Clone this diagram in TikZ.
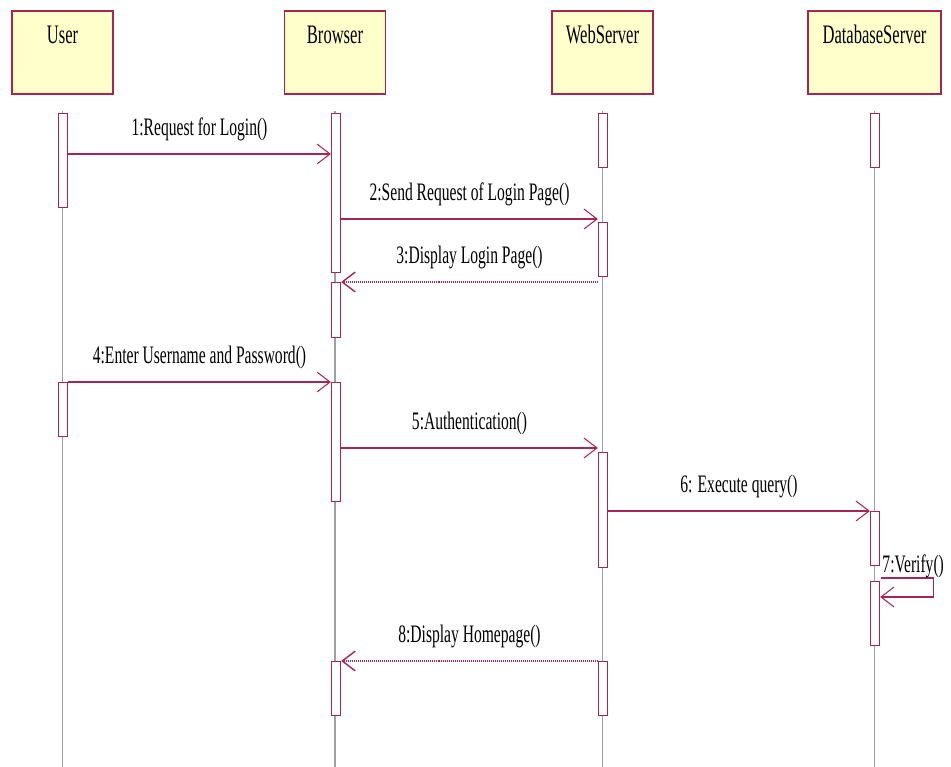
\documentclass[tikz,border=0pt]{standalone}
\usepackage{fontspec}
\usepackage{tikz}
\usetikzlibrary{arrows.meta,positioning}
\newfontfamily\umlfont[FakeStretch=0.62]{Liberation Serif}
\definecolor{umlred}{HTML}{A8254F}
\definecolor{umlfill}{HTML}{FFFFCC}
\definecolor{lifegray}{HTML}{A0A0A0}

\begin{document}
\begin{tikzpicture}[x=0.02cm,y=-0.02cm,
    obj/.style={rectangle, draw=umlred, fill=umlfill, line width=0.7pt,
                minimum width=2.02cm, minimum height=1.66cm, inner sep=0},
    objname/.style={anchor=base, inner sep=0, font=\umlfont\fontsize{15.2}{17}\selectfont},
    life/.style={draw=lifegray, line width=0.6pt},
    bar/.style={rectangle, draw=umlred, fill=white, line width=0.7pt,
                minimum width=0.18cm, inner sep=0, anchor=north},
    msg/.style={draw=umlred, line width=0.6pt,
                -{Straight Barb[length=7.4pt,width=11.3pt]}},
    reply/.style={msg, line width=0.8pt, dash pattern=on 0.567pt off 0.567pt},
    msglabel/.style={inner sep=0, text depth=0pt, above=10pt,
                     font=\umlfont\fontsize{14.3}{16}\selectfont}]

  \useasboundingbox (0,0) rectangle (951,767);
  \coordinate (bottom) at (0,767);

  %Objects%
  \node[obj] (user) at (62.5,52.5) {};
  \node[obj] (browser) at (335,52.5) {};
  \node[obj] (web) at (602.5,52.5) {};
  \node[obj, minimum width=2.66cm] (db) at (874.5,52.5) {};
  \node[objname] at ([yshift=-18.7pt]user.north) {User};
  \node[objname] at ([yshift=-18.7pt]browser.north) {Browser};
  \node[objname] at ([yshift=-18.7pt]web.north) {WebServer};
  \node[objname] at ([yshift=-18.7pt]db.north) {DatabaseServer};

  %Lifelines%
  \draw[life] ([yshift=-0.32cm]user.south) -- (user.south |- bottom);
  \draw[life] ([yshift=-0.32cm]browser.south) -- (browser.south |- bottom);
  \draw[life] ([yshift=-0.32cm]web.south) -- (web.south |- bottom);
  \draw[life] ([yshift=-0.32cm]db.south) -- (db.south |- bottom);

  %Activations%
  \node[bar, minimum height=1.88cm] (u1) at (63,113) {};
  \node[bar, minimum height=1.08cm] (u2) at (63,382) {};
  \node[bar, minimum height=3.18cm] (b1) at (336,113) {};
  \node[bar, minimum height=1.10cm] (b2) at (336,282) {};
  \node[bar, minimum height=2.38cm] (b3) at (336,382) {};
  \node[bar, minimum height=1.08cm] (b4) at (336,661) {};
  \node[bar, minimum height=1.08cm] (w1) at (603,113) {};
  \node[bar, minimum height=1.08cm] (w2) at (603,222) {};
  \node[bar, minimum height=2.30cm] (w3) at (603,452) {};
  \node[bar, minimum height=1.08cm] (w4) at (603,661) {};
  \node[bar, minimum height=1.08cm] (d1) at (875,113) {};
  \node[bar, minimum height=1.08cm] (d2) at (875,511) {};
  \node[bar, minimum height=1.28cm] (d3) at (875,581) {};

  %Messages%
  \coordinate (m1) at (0,154);
  \coordinate (m2) at ([yshift=0.06cm]w2.north west);
  \coordinate (m5) at ([yshift=0.08cm]w3.north west);
  \draw[msg] (u1.east |- m1) -- node[msglabel] {1:Request for Login()} (b1.west |- m1);
  \draw[msg] (b1.east |- m2) -- node[msglabel] {2:Send Request of Login Page()} (m2);
  \draw[reply] (w2.west |- b2.north) -- node[msglabel] {3:Display Login Page()} (b2.north east);
  \draw[msg] (u2.north east) -- node[msglabel] {4:Enter Username and Password()} (b3.north west);
  \draw[msg] (b3.east |- m5) -- node[msglabel] {5:Authentication()} (m5);
  \draw[msg] (w3.east |- d2.north) -- node[msglabel] {6: Execute query()} (d2.north west);
  \draw[msg] ([xshift=0.02cm,yshift=0.06cm]d3.north east) -- ++(52,0)
    |- ([yshift=-0.32cm]d3.north east);
  \node[anchor=base west, inner sep=0, font=\umlfont\fontsize{14.3}{16}\selectfont]
    at ([xshift=0.04cm,yshift=0.18cm]d3.north east) {7:Verify()};
  \draw[reply] (w4.north west) -- node[msglabel] {8:Display Homepage()} (b4.north east);
\end{tikzpicture}
\end{document}
